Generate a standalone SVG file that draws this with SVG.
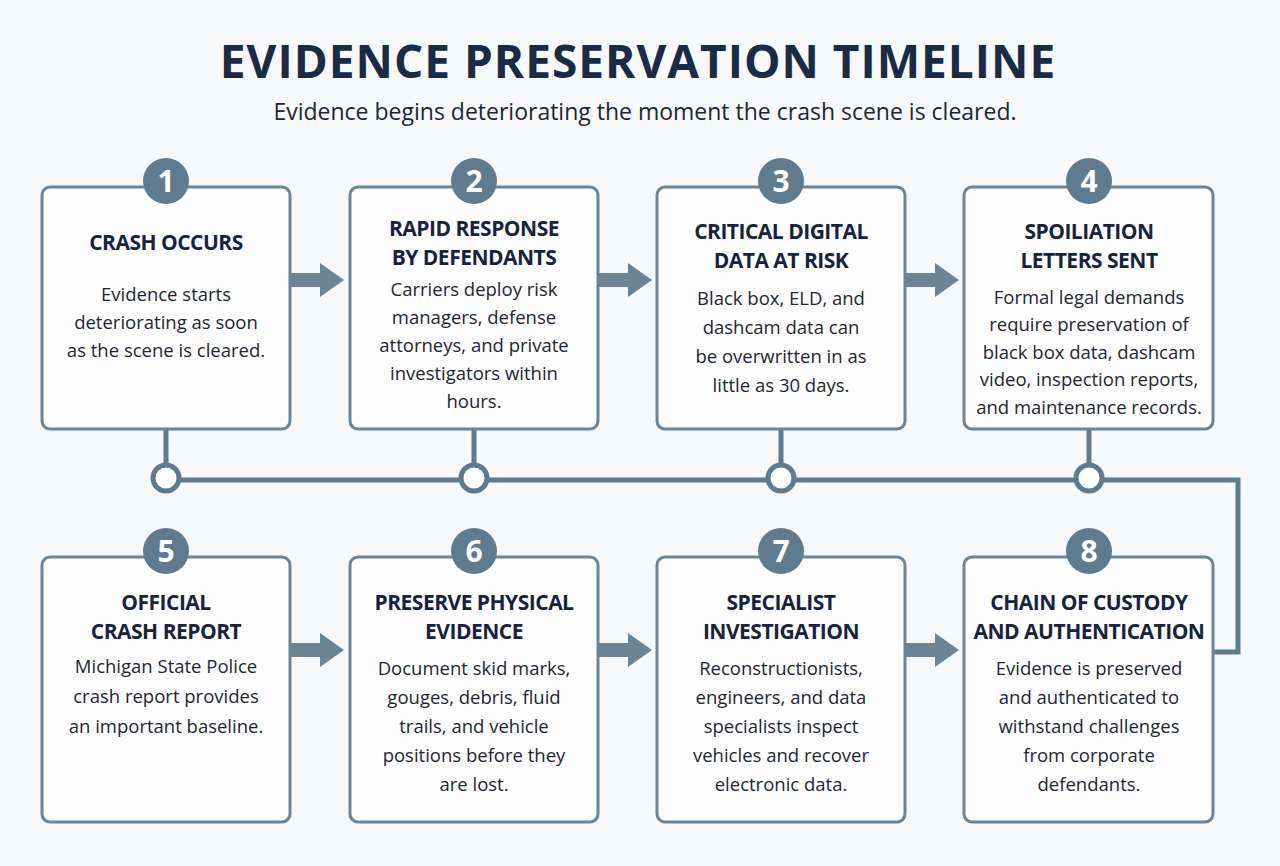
<svg xmlns="http://www.w3.org/2000/svg" width="1280" height="866" viewBox="0 0 1280 866">
<style>
.box{fill:#fdfdfd;stroke:#6b8597;stroke-width:3}
.num{fill:#5e7b8f}
.nt{font-family:"Open Sans","Liberation Sans",sans-serif;font-weight:700;font-size:30px;fill:#fff;text-anchor:middle}
.h{font-family:"Open Sans","Liberation Sans",sans-serif;font-weight:700;font-size:21px;letter-spacing:-0.5px;fill:#16233d;text-anchor:middle}
.b{font-family:"Open Sans","Liberation Sans",sans-serif;font-size:18.5px;fill:#1e2633;text-anchor:middle}
.ln{fill:none;stroke:#5e7b8f;stroke-width:5}
.dot{fill:#fff;stroke:#5e7b8f;stroke-width:5}
.ar{fill:#6b8597}
</style>
<rect width="1280" height="866" fill="#f7f8fa"/>
<text x="638" y="78" font-family="Open Sans,Liberation Sans,sans-serif" font-weight="700" font-size="46" fill="#1b2a45" text-anchor="middle" letter-spacing="1">EVIDENCE PRESERVATION TIMELINE</text>
<text x="645" y="120" font-family="Open Sans,Liberation Sans,sans-serif" font-size="23" fill="#1e2633" text-anchor="middle">Evidence begins deteriorating the moment the crash scene is cleared.</text>
<g id="connectors">
<path class="ln" d="M166 429V478M474 429V478M781 429V478M1089 429V478"/>
<path class="ln" d="M166 480H1238V652H1213"/>
<circle class="dot" cx="166" cy="478" r="13"/><circle class="dot" cx="474" cy="478" r="13"/><circle class="dot" cx="781" cy="478" r="13"/><circle class="dot" cx="1089" cy="478" r="13"/>
<path class="ar" d="M291 273H320V263L344 280L320 297V287H291Z"/>
<path class="ar" d="M599 273H628V263L652 280L628 297V287H599Z"/>
<path class="ar" d="M906 273H935V263L959 280L935 297V287H906Z"/>
<path class="ar" d="M291 643H320V633L344 650L320 667V657H291Z"/>
<path class="ar" d="M599 643H628V633L652 650L628 667V657H599Z"/>
<path class="ar" d="M906 643H935V633L959 650L935 667V657H906Z"/>
</g>
<g id="n1"><rect class="box" x="42" y="187" width="248" height="242" rx="8"/><circle class="num" cx="166" cy="181" r="23"/><text class="nt" x="166" y="192">1</text>
<text class="h" x="166" y="250">CRASH OCCURS</text>
<text class="b" x="166" y="301">Evidence starts</text><text class="b" x="166" y="329">deteriorating as soon</text><text class="b" x="166" y="357">as the scene is cleared.</text></g>
<g id="n2"><rect class="box" x="350" y="187" width="248" height="242" rx="8"/><circle class="num" cx="474" cy="181" r="23"/><text class="nt" x="474" y="192">2</text>
<text class="h" x="474" y="236">RAPID RESPONSE</text><text class="h" x="474" y="265">BY DEFENDANTS</text>
<text class="b" x="474" y="296">Carriers deploy risk</text><text class="b" x="474" y="324">managers, defense</text><text class="b" x="474" y="352">attorneys, and private</text><text class="b" x="474" y="380">investigators within</text><text class="b" x="474" y="408">hours.</text></g>
<g id="n3"><rect class="box" x="657" y="187" width="248" height="242" rx="8"/><circle class="num" cx="781" cy="181" r="23"/><text class="nt" x="781" y="192">3</text>
<text class="h" x="781" y="239">CRITICAL DIGITAL</text><text class="h" x="781" y="268">DATA AT RISK</text>
<text class="b" x="781" y="305">Black box, ELD, and</text><text class="b" x="781" y="334">dashcam data can</text><text class="b" x="781" y="363">be overwritten in as</text><text class="b" x="781" y="392">little as 30 days.</text></g>
<g id="n4"><rect class="box" x="964" y="187" width="249" height="242" rx="8"/><circle class="num" cx="1089" cy="181" r="23"/><text class="nt" x="1089" y="192">4</text>
<text class="h" x="1089" y="239">SPOILIATION</text><text class="h" x="1089" y="268">LETTERS SENT</text>
<text class="b" x="1089" y="304">Formal legal demands</text><text class="b" x="1089" y="331">require preservation of</text><text class="b" x="1089" y="359">black box data, dashcam</text><text class="b" x="1089" y="386">video, inspection reports,</text><text class="b" x="1089" y="414">and maintenance records.</text></g>
<g id="n5"><rect class="box" x="42" y="557" width="248" height="265" rx="8"/><circle class="num" cx="166" cy="551" r="23"/><text class="nt" x="166" y="562">5</text>
<text class="h" x="166" y="610">OFFICIAL</text><text class="h" x="166" y="639">CRASH REPORT</text>
<text class="b" x="166" y="673">Michigan State Police</text><text class="b" x="166" y="703">crash report provides</text><text class="b" x="166" y="733">an important baseline.</text></g>
<g id="n6"><rect class="box" x="350" y="557" width="248" height="265" rx="8"/><circle class="num" cx="474" cy="551" r="23"/><text class="nt" x="474" y="562">6</text>
<text class="h" x="474" y="610">PRESERVE PHYSICAL</text><text class="h" x="474" y="639">EVIDENCE</text>
<text class="b" x="474" y="675">Document skid marks,</text><text class="b" x="474" y="704">gouges, debris, fluid</text><text class="b" x="474" y="733">trails, and vehicle</text><text class="b" x="474" y="762">positions before they</text><text class="b" x="474" y="791">are lost.</text></g>
<g id="n7"><rect class="box" x="657" y="557" width="248" height="265" rx="8"/><circle class="num" cx="781" cy="551" r="23"/><text class="nt" x="781" y="562">7</text>
<text class="h" x="781" y="610">SPECIALIST</text><text class="h" x="781" y="639">INVESTIGATION</text>
<text class="b" x="781" y="675">Reconstructionists,</text><text class="b" x="781" y="704">engineers, and data</text><text class="b" x="781" y="733">specialists inspect</text><text class="b" x="781" y="762">vehicles and recover</text><text class="b" x="781" y="791">electronic data.</text></g>
<g id="n8"><rect class="box" x="964" y="557" width="249" height="265" rx="8"/><circle class="num" cx="1089" cy="551" r="23"/><text class="nt" x="1089" y="562">8</text>
<text class="h" x="1089" y="610">CHAIN OF CUSTODY</text><text class="h" x="1089" y="639">AND AUTHENTICATION</text>
<text class="b" x="1089" y="675">Evidence is preserved</text><text class="b" x="1089" y="704">and authenticated to</text><text class="b" x="1089" y="733">withstand challenges</text><text class="b" x="1089" y="762">from corporate</text><text class="b" x="1089" y="791">defendants.</text></g>
</svg>
